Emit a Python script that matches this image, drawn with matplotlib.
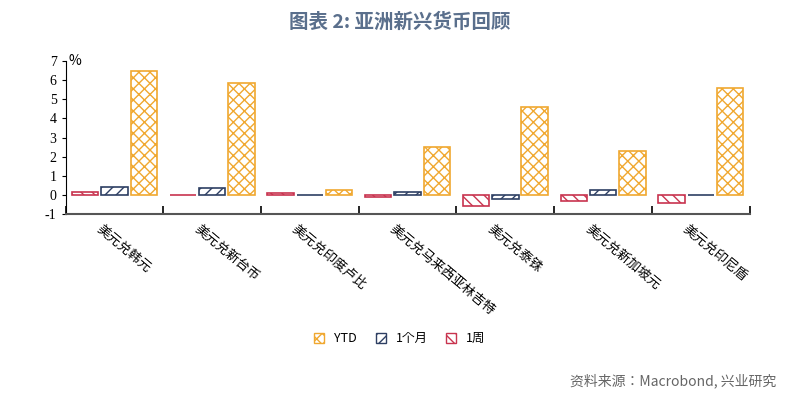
import matplotlib
matplotlib.use("Agg")
import matplotlib.pyplot as plt
from matplotlib import font_manager
from matplotlib.patches import Patch
import numpy as np

# find an installed CJK font by file name
cjk = None
for f in font_manager.findSystemFonts():
    if "CJK" in f and ("SC" in f or "sc" in f.lower()):
        cjk = font_manager.FontProperties(fname=f).get_name()
        break
if cjk is None:
    for f in font_manager.findSystemFonts():
        if "CJK" in f:
            cjk = font_manager.FontProperties(fname=f).get_name()
            break
plt.rcParams["font.family"] = [cjk or "Noto Sans CJK SC", "DejaVu Sans"]
plt.rcParams["hatch.linewidth"] = 1.0
plt.rcParams["axes.unicode_minus"] = False

categories = ["美元兑韩元", "美元兑新台币", "美元兑印度卢比", "美元兑马来西亚林吉特",
              "美元兑泰铢", "美元兑新加坡元", "美元兑印尼盾"]
week = [0.12, -0.02, 0.10, -0.10, -0.60, -0.35, -0.45]
month = [0.42, 0.33, -0.03, 0.12, -0.25, 0.25, -0.02]
ytd = [6.5, 5.85, 0.25, 2.5, 4.6, 2.3, 5.6]

fig = plt.figure(figsize=(8.0, 4.01), dpi=100)
ax = fig.add_axes([0.082, 0.467, 0.855, 0.38])

x = np.arange(len(categories))
sp, w = 0.3, 0.27
red, navy, orange = "#c8344f", "#2e3f63", "#f0a830"
ax.bar(x - sp, week, w, facecolor="white", edgecolor=red, hatch="\\\\\\", lw=1.2)
ax.bar(x, month, w, facecolor="white", edgecolor=navy, hatch="///", lw=1.2)
ax.bar(x + sp, ytd, w, facecolor="white", edgecolor=orange, hatch="xxx", lw=1.2)

ax.set_xlim(-0.5, len(categories) - 0.5)
ax.set_ylim(-1, 7)
ax.set_yticks(range(-1, 8))
ax.tick_params(axis="y", labelsize=10, length=3)
for lab in ax.get_yticklabels():
    lab.set_fontfamily("Liberation Serif")
for s in ["top", "right"]:
    ax.spines[s].set_visible(False)
ax.spines["bottom"].set_color("#555555")
ax.spines["bottom"].set_linewidth(1.5)
ax.set_xticks(np.arange(len(categories) + 1) - 0.5)
ax.set_xticklabels([])
ax.tick_params(axis="x", length=6, direction="in", width=1.2)
for i, c in enumerate(categories):
    ax.text(i - 0.12, -1.45, c, rotation=-40, rotation_mode="anchor",
            ha="left", va="top", fontsize=9.5)
ax.text(-0.47, 7.0, "%", fontsize=10, va="center")

fig.text(0.5, 0.945, "图表 2: 亚洲新兴货币回顾", ha="center", va="center",
         fontsize=14, fontweight="bold", color="#5a6f8c")

handles = [Patch(facecolor="white", edgecolor=orange, hatch="xxx"),
           Patch(facecolor="white", edgecolor=navy, hatch="///"),
           Patch(facecolor="white", edgecolor=red, hatch="\\\\\\")]
fig.legend(handles, ["YTD", "1个月", "1周"], loc="center", bbox_to_anchor=(0.5, 0.155),
           ncol=3, frameon=False, fontsize=9, handlelength=0.8, handleheight=0.8,
           columnspacing=1.5)
fig.text(0.97, 0.05, "资料来源：Macrobond, 兴业研究", ha="right", va="center",
         fontsize=10, color="#666666")

fig.savefig("out.png", dpi=100)
